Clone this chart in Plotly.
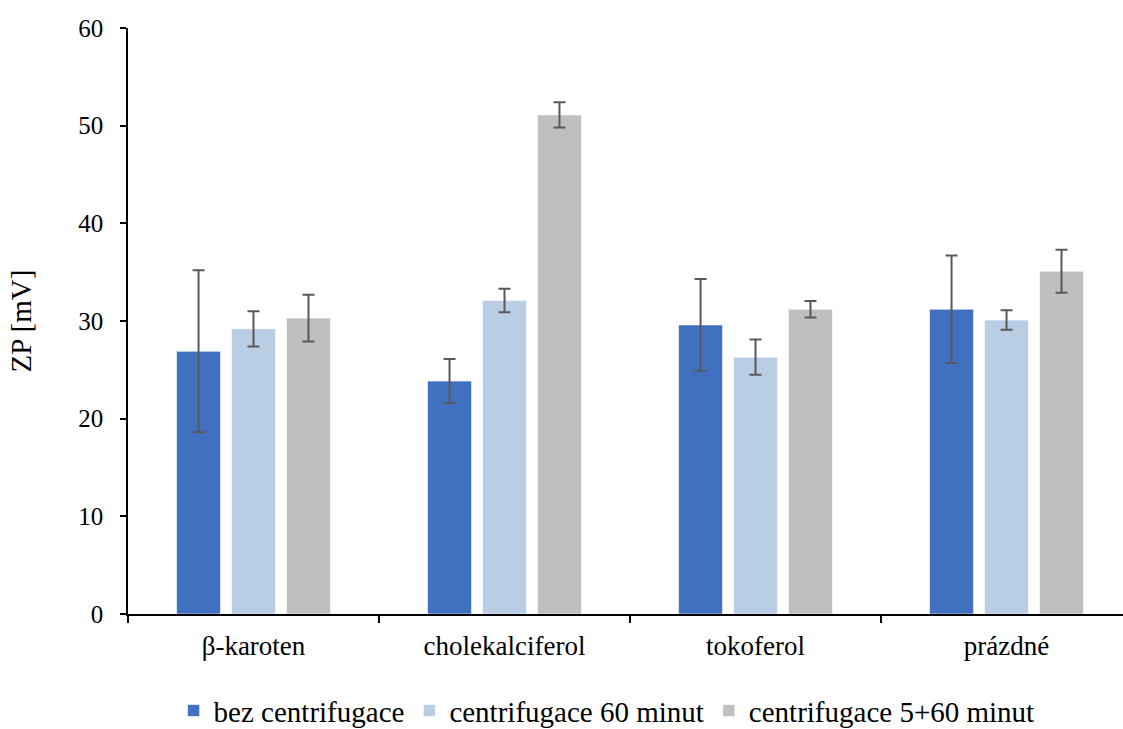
import plotly.graph_objects as go

categories = ["β-karoten", "cholekalciferol", "tokoferol", "prázdné"]
series_names = ["bez centrifugace", "centrifugace 60 minut", "centrifugace 5+60 minut"]
bez = [26.9, 23.85, 29.6, 31.2]
bez_err = [8.3, 2.25, 4.7, 5.5]
c60 = [29.2, 32.1, 26.3, 30.1]
c60_err = [1.8, 1.2, 1.8, 1.0]
c560 = [30.3, 51.1, 31.2, 35.1]
c560_err = [2.4, 1.3, 0.85, 2.2]
y_ticks = [0, 10, 20, 30, 40, 50, 60]

colors = ["#4070C0", "#B9CDE5", "#BFBFBF"]
values = [bez, c60, c560]
errors = [bez_err, c60_err, c560_err]

fig = go.Figure()
for name, vals, errs, col in zip(series_names, values, errors, colors):
    fig.add_trace(go.Bar(
        x=categories, y=vals, name=name,
        marker=dict(color=col, line=dict(color="rgba(255,255,255,0.6)", width=1)),
        error_y=dict(type="data", array=errs, visible=True,
                     color="#595959", thickness=2, width=6),
    ))

font_family = "Liberation Serif, Times New Roman, serif"
fig.update_layout(
    width=1123, height=729,
    barmode="group", bargap=0.343, bargroupgap=0.2,
    plot_bgcolor="white", paper_bgcolor="white",
    margin=dict(l=128, r=0, t=28, b=115, autoexpand=False),
    font=dict(family=font_family, color="black", size=24),
    showlegend=True,
    legend=dict(orientation="h", x=0.481, xanchor="center", y=-0.165, yanchor="middle",
                font=dict(size=29, family=font_family), itemwidth=30,
                traceorder="normal", tracegroupgap=0),
    xaxis=dict(
        type="category", range=[-0.5, 3.464],
        showline=True, linecolor="black", linewidth=2,
        ticks="outside", tickson="boundaries", ticklen=7, tickwidth=1.5, tickcolor="black",
        tickfont=dict(size=27, family=font_family),
        ticklabelstandoff=7,
        showgrid=False, zeroline=False,
    ),
    yaxis=dict(
        range=[0, 60], tickvals=y_ticks,
        showline=True, linecolor="black", linewidth=1.5,
        ticks="outside", ticklen=6, tickwidth=1.5, tickcolor="black",
        tickfont=dict(size=25, family=font_family),
        ticklabelstandoff=12,
        showgrid=False, zeroline=False,
        title=dict(text="ZP [mV]", font=dict(size=29, family=font_family), standoff=38),
    ),
)

fig.write_html("out.html")
